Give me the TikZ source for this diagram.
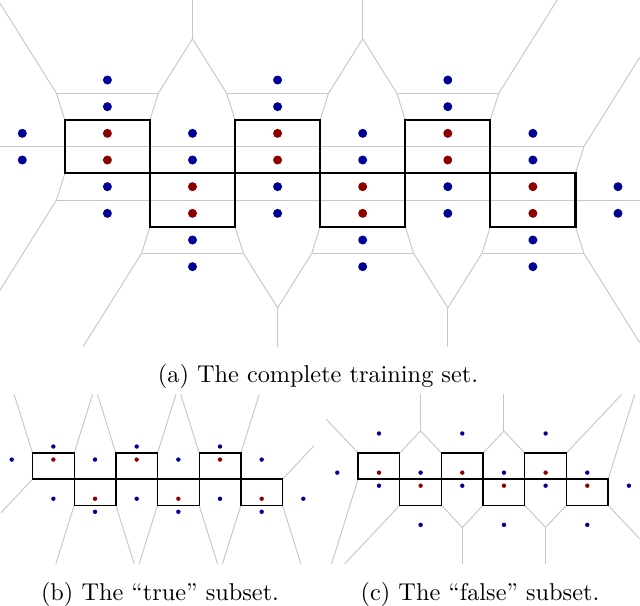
\documentclass[tikz,border=0pt]{standalone}
\definecolor{bdotc}{RGB}{0,0,150}
\definecolor{rdotc}{RGB}{140,0,0}
\definecolor{vlinec}{RGB}{200,200,200}
\tikzset{
  vor/.style={draw=vlinec, line width=0.4pt},
  boxa/.style={draw=black, line width=0.9pt},
  boxs/.style={draw=black, line width=0.55pt},
  bluedot/.style={fill=bdotc},
  reddot/.style={fill=rdotc},
  captext/.style={anchor=base, inner sep=0pt, font=\normalsize},
}
\newcommand\bdt[2]{\fill[bluedot] (#1,#2) circle[radius=4.5];}
\newcommand\rdt[2]{\fill[reddot] (#1,#2) circle[radius=4.5];}
\newcommand\drawboxes[1]{%
  \draw[#1] (64.85,120) rectangle (149.95,173.33);
  \draw[#1] (235.05,120) rectangle (320.15,173.33);
  \draw[#1] (405.25,120) rectangle (490.35,173.33);
  \draw[#1] (149.95,173.33) rectangle (235.05,226.67);
  \draw[#1] (320.15,173.33) rectangle (405.25,226.67);
  \draw[#1] (490.35,173.33) rectangle (575.45,226.67);
}
\begin{document}
\begin{tikzpicture}[x=0.4115pt, y=-0.4115pt]
\useasboundingbox (0,0) rectangle (640,606);

% ---------------- (a) complete set ----------------
\begin{scope}
\clip (0,0) rectangle (640,346.67);
\draw[vor] (56.49,93.33) -- (158.31,93.33);
\draw[vor] (226.69,93.33) -- (328.51,93.33);
\draw[vor] (396.89,93.33) -- (498.71,93.33);
\draw[vor] (0,146.67) -- (583.81,146.67);
\draw[vor] (56.49,200) -- (640,200);
\draw[vor] (141.59,253.33) -- (243.41,253.33);
\draw[vor] (311.79,253.33) -- (413.61,253.33);
\draw[vor] (481.99,253.33) -- (583.81,253.33);
\draw[vor] (64.85,120) -- (64.85,173.33);
\foreach \m in {149.95,235.05,320.15,405.25,490.35} \draw[vor] (\m,120) -- (\m,226.67);
\draw[vor] (575.45,173.33) -- (575.45,226.67);
\draw[vor] (192.5,0) -- (192.5,38.78);
\draw[vor] (362.7,0) -- (362.7,38.78);
\draw[vor] (277.6,307.88) -- (277.6,346.67);
\draw[vor] (447.8,307.88) -- (447.8,346.67);
\draw[vor] (64.85,120) -- (56.49,93.33) -- (0,3.19);
\draw[vor] (149.95,120) -- (158.31,93.33) -- (192.5,38.78) -- (226.69,93.33) -- (235.05,120);
\draw[vor] (320.15,120) -- (328.51,93.33) -- (362.7,38.78) -- (396.89,93.33) -- (405.25,120);
\draw[vor] (490.35,120) -- (498.71,93.33) -- (557.2,0);
\draw[vor] (575.45,173.33) -- (583.81,146.67) -- (640,57.0);
\draw[vor] (64.85,173.33) -- (56.49,200) -- (0,290.14);
\draw[vor] (149.95,226.67) -- (141.59,253.33) -- (83.1,346.67);
\draw[vor] (235.05,226.67) -- (243.41,253.33) -- (277.6,307.88) -- (311.79,253.33) -- (320.15,226.67);
\draw[vor] (405.25,226.67) -- (413.61,253.33) -- (447.8,307.88) -- (481.99,253.33) -- (490.35,226.67);
\draw[vor] (575.45,226.67) -- (583.81,253.33) -- (640,342.99);
\end{scope}
\drawboxes{boxa}
\bdt{22.3}{133.33}\bdt{22.3}{160}
\foreach \c in {107.4,277.6,447.8}{%
  \bdt{\c}{80}\bdt{\c}{106.67}\rdt{\c}{133.33}\rdt{\c}{160}\bdt{\c}{186.67}\bdt{\c}{213.33}}
\foreach \c in {192.5,362.7,532.9}{%
  \bdt{\c}{133.33}\bdt{\c}{160}\rdt{\c}{186.67}\rdt{\c}{213.33}\bdt{\c}{240}\bdt{\c}{266.67}}
\bdt{618}{186.67}\bdt{618}{213.33}
\node[captext] (capa) at (318,382.2) {(a) The complete training set.};

% ---------------- (b) true subset ----------------
\begin{scope}[shift={(0.78,394.3)}, scale=0.4896]
\begin{scope}
\clip (0,0) rectangle (640,346.67);
\draw[vor] (64.85,120) -- (27.24,0);
\draw[vor] (149.95,120) -- (187.56,0);
\draw[vor] (235.05,120) -- (197.44,0);
\draw[vor] (320.15,120) -- (357.76,0);
\draw[vor] (405.25,120) -- (367.64,0);
\draw[vor] (490.35,120) -- (527.96,0);
\draw[vor] (575.45,173.33) -- (640,104.67);
\draw[vor] (64.85,173.33) -- (0,242.31);
\draw[vor] (149.95,226.67) -- (112.34,346.67);
\draw[vor] (235.05,226.67) -- (272.66,346.67);
\draw[vor] (320.15,226.67) -- (282.54,346.67);
\draw[vor] (405.25,226.67) -- (442.86,346.67);
\draw[vor] (490.35,226.67) -- (452.74,346.67);
\draw[vor] (575.45,226.67) -- (613.06,346.67);
\end{scope}
\drawboxes{boxs}
\bdt{22.3}{133.33}
\foreach \c in {107.4,277.6,447.8}{\bdt{\c}{106.67}\rdt{\c}{133.33}\bdt{\c}{213.33}}
\foreach \c in {192.5,362.7,532.9}{\bdt{\c}{133.33}\rdt{\c}{213.33}\bdt{\c}{240}}
\bdt{618}{213.33}
\end{scope}
\node[captext] (capb) at (160,600) {(b) The ``true'' subset.};

% ---------------- (c) false subset ----------------
\begin{scope}[shift={(326.38,394.3)}, scale=0.4896]
\begin{scope}
\clip (0,0) rectangle (640,346.67);
\draw[vor] (64.85,120) -- (0,51.02);
\draw[vor] (149.95,120) -- (192.5,74.74) -- (235.05,120);
\draw[vor] (192.5,74.74) -- (192.5,0);
\draw[vor] (320.15,120) -- (362.7,74.74) -- (405.25,120);
\draw[vor] (362.7,74.74) -- (362.7,0);
\draw[vor] (490.35,120) -- (603.15,0);
\draw[vor] (575.45,173.33) -- (629.77,0);
\draw[vor] (64.85,173.33) -- (10.53,346.67);
\draw[vor] (149.95,226.67) -- (37.14,346.67);
\draw[vor] (235.05,226.67) -- (277.6,271.93) -- (320.15,226.67);
\draw[vor] (277.6,271.93) -- (277.6,346.67);
\draw[vor] (405.25,226.67) -- (447.8,271.93) -- (490.35,226.67);
\draw[vor] (447.8,271.93) -- (447.8,346.67);
\draw[vor] (575.45,226.67) -- (640,295.33);
\end{scope}
\drawboxes{boxs}
\bdt{22.3}{160}
\foreach \c in {107.4,277.6,447.8}{\bdt{\c}{80}\rdt{\c}{160}\bdt{\c}{186.67}}
\foreach \c in {192.5,362.7,532.9}{\bdt{\c}{160}\rdt{\c}{186.67}\bdt{\c}{266.67}}
\bdt{618}{186.67}
\end{scope}
\node[captext] (capc) at (480,600) {(c) The ``false'' subset.};
\end{tikzpicture}
\end{document}
